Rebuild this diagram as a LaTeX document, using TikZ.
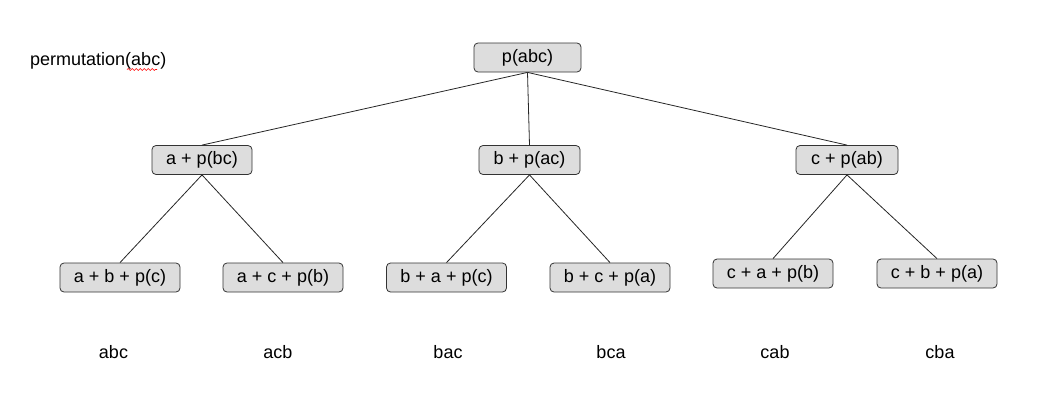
\documentclass[tikz,border=0pt]{standalone}
\usepackage{fontspec}
\setmainfont{Liberation Sans}
\usepackage{tikz}
\usetikzlibrary{shapes,% rounded boxes
decorations.pathmorphing} % wavy underline
\definecolor{boxgray}{HTML}{DDDDDD}
\definecolor{edgegray}{HTML}{333333}
\tikzset{every node/.style={font=\fontsize{18}{20}\selectfont},
  callbox/.style={draw=edgegray,fill=boxgray,rounded corners=4pt,
    line width=0.8pt,minimum height=29pt,inner sep=0pt},
  leafbox/.style={callbox,minimum width=120pt},
  branch/.style={line width=0.8pt,draw=black!85}}

\begin{document}
\begin{tikzpicture}[x=1pt,y=-1pt]
\useasboundingbox (0,0) rectangle (1042,410);
\node[anchor=west,inner sep=0pt] (perm) at (30,61) {permutation(abc)};
\draw[red,line width=0.6pt,decorate,decoration={snake,amplitude=0.9pt,segment length=4pt}]
  (127,69.5) -- (157,69.5);
% calls
\node[callbox,minimum width=107pt] (pabc) at (527.5,57.5) {p(abc)};
\node[callbox,minimum width=100pt] (apbc) at (202,160) {a + p(bc)};
\node[callbox,minimum width=101pt] (bpac) at (529.5,160) {b + p(ac)};
\node[callbox,minimum width=102pt] (cpab) at (847,160) {c + p(ab)};
\node[leafbox] (abpc) at (120,277.5) {a + b + p(c)};
\node[leafbox] (acpb) at (283,277.5) {a + c + p(b)};
\node[leafbox] (bapc) at (446.5,277.5) {b + a + p(c)};
\node[leafbox] (bcpa) at (610,277.5) {b + c + p(a)};
\node[leafbox] (capb) at (773,273.5) {c + a + p(b)};
\node[leafbox] (cbpa) at (937,273.5) {c + b + p(a)};
% branches
\foreach \p/\c in {pabc/apbc,pabc/bpac,pabc/cpab,apbc/abpc,apbc/acpb,
  bpac/bapc,bpac/bcpa,cpab/capb,cpab/cbpa}
  \draw[branch] (\p.south) -- (\c.north);
% results
\foreach \x/\t in {113.5/abc,278/acb,448/bac,611/bca,775/cab,940/cba}
  \node (res\t) at (\x,352) {\t};
\end{tikzpicture}
\end{document}
